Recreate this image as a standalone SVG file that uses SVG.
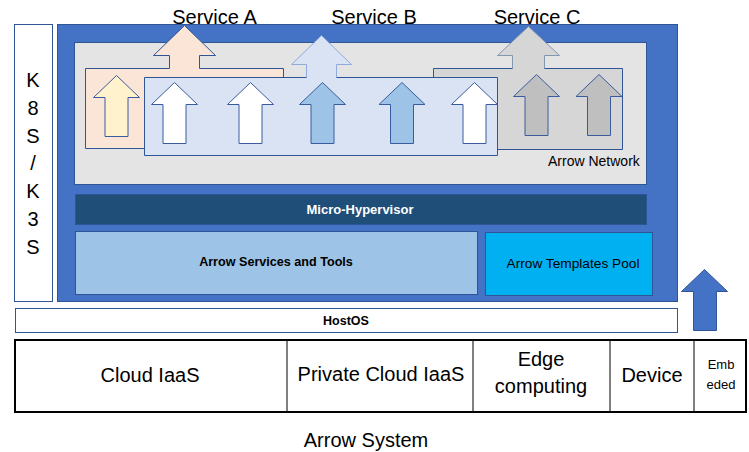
<svg xmlns="http://www.w3.org/2000/svg" width="749" height="452" viewBox="0 0 749 452">
<style>
text{font-family:"Liberation Sans",Arial,sans-serif;fill:#000}
.big{font-size:20px}
.c{text-anchor:middle}
.b{font-weight:bold}
.sm{stroke:#3A5C9E;stroke-width:1;stroke-linejoin:miter}
.box{stroke:#2F5597;stroke-width:1}
</style>
<defs>
<path id="arw" d="M-11.5,61 V22 H-23 L0,0 L23,22 H11.5 V61 Z"/>
</defs>
<g id="k8s">
<rect class="box" x="14.5" y="24.5" width="38" height="277" fill="#fff"/>
<text class="big c" x="33" y="87">K</text>
<text class="big c" x="33" y="115">8</text>
<text class="big c" x="33" y="142.5">S</text>
<text class="big c" x="33" y="170">/</text>
<text class="big c" x="33" y="198">K</text>
<text class="big c" x="33" y="226">3</text>
<text class="big c" x="33" y="254">S</text>
</g>
<g id="arrow-system-box">
<rect class="box" x="57.5" y="24.5" width="620" height="277" fill="#4472C4"/>
</g>
<g id="arrow-network">
<rect class="box" x="74.5" y="42.5" width="572" height="142" fill="#E4E4E4"/>
<text x="548" y="166" style="font-size:14px">Arrow Network</text>
</g>
<g id="service-a">
<path d="M85.5,68.5 H169.5 V55.5 H153.5 L184.5,25.5 L215.5,55.5 H199.5 V68.5 H283.5 V148.5 H85.5 Z" fill="#FBE5D6" stroke="#2F5597" stroke-width="1"/>
<use href="#arw" x="116.5" y="75.5" fill="#FFF2CC" class="sm"/>
</g>
<g id="service-c">
<path d="M433.5,68.5 H512.5 V55.5 H497.5 L528.5,26.5 L559.5,55.5 H544.5 V68.5 H622.5 V149.5 H433.5 Z" fill="#D6D6D6"/>
<path d="M512.5,68.5 V55.5 H497.5 L528.5,26.5 L559.5,55.5 H544.5 V68.5" fill="none" stroke="#8497B0" stroke-width="1"/>
<path d="M512.5,68.5 H433.5 V149.5 H622.5 V68.5 H544.5" fill="none" stroke="#2F5597" stroke-width="1"/>
<use href="#arw" x="536.5" y="74.5" fill="#BFBFBF" class="sm"/>
<use href="#arw" x="599" y="74.5" fill="#BFBFBF" class="sm"/>
</g>
<g id="service-b">
<path d="M144.5,77.5 H306.5 V64.5 H291.5 L321.5,35.5 L351.5,64.5 H336.5 V77.5 H497.5 V155.5 H144.5 Z" fill="#DAE3F3"/>
<path d="M306.5,77.5 V64.5 H291.5 L321.5,35.5 L351.5,64.5 H336.5 V77.5" fill="none" stroke="#8FAADC" stroke-width="1"/>
<path d="M306.5,77.5 H144.5 V155.5 H497.5 V77.5 H336.5" fill="none" stroke="#2F5597" stroke-width="1"/>
<use href="#arw" x="174.5" y="82.5" fill="#FFFFFF" class="sm"/>
<use href="#arw" x="250.5" y="82.5" fill="#FFFFFF" class="sm"/>
<use href="#arw" x="322.5" y="82.5" fill="#9DC3E6" class="sm"/>
<use href="#arw" x="402" y="82.5" fill="#9DC3E6" class="sm"/>
<use href="#arw" x="474.5" y="82.5" fill="#FFFFFF" class="sm"/>
</g>
<g id="service-labels">
<text class="big c" x="214.5" y="24">Service A</text>
<text class="big c" x="374" y="24">Service B</text>
<text class="big c" x="537" y="24">Service C</text>
</g>
<g id="micro-hypervisor">
<rect class="box" x="75.5" y="194.5" width="571" height="30" fill="#1F4E79"/>
<text class="c b" x="360" y="214" style="font-size:13px;fill:#fff">Micro-Hypervisor</text>
</g>
<g id="arrow-services">
<rect class="box" x="75.5" y="231.5" width="402" height="63" fill="#9DC3E6"/>
<text class="c b" x="276" y="265.5" style="font-size:12.6px">Arrow Services and Tools</text>
</g>
<g id="templates-pool">
<rect class="box" x="485.5" y="232.5" width="167" height="63" fill="#00B0F0"/>
<text class="c" x="573" y="268" style="font-size:13.7px">Arrow Templates Pool</text>
</g>
<g id="hostos">
<rect class="box" x="15.5" y="308.5" width="662" height="24" fill="#fff"/>
<text class="c b" x="346" y="324.5" style="font-size:12.5px">HostOS</text>
</g>
<g id="connectors">
<path d="M693.5,330.5 V291.5 H681.5 L704.5,269.5 L727.5,291.5 H716.5 V330.5 Z" fill="#4472C4" stroke="#2F5597" stroke-width="1"/>
</g>
<g id="platforms">
<rect x="15" y="340" width="731" height="72" fill="#fff" stroke="#000" stroke-width="2"/>
<line x1="287" y1="340" x2="287" y2="412" stroke="#000" stroke-width="1"/>
<line x1="473" y1="340" x2="473" y2="412" stroke="#000" stroke-width="1"/>
<line x1="610" y1="340" x2="610" y2="412" stroke="#000" stroke-width="1"/>
<line x1="694" y1="340" x2="694" y2="412" stroke="#000" stroke-width="1"/>
<text class="big c" x="150" y="382">Cloud IaaS</text>
<text class="big c" x="381" y="381">Private Cloud IaaS</text>
<text class="big c" x="541" y="366">Edge</text>
<text class="big c" x="541" y="393">computing</text>
<text class="big c" x="652" y="382">Device</text>
<text class="c" x="721" y="369" style="font-size:13px">Emb</text>
<text class="c" x="721" y="389" style="font-size:13px">eded</text>
</g>
<g id="title">
<text class="big c" x="366" y="447">Arrow System</text>
</g>
</svg>
